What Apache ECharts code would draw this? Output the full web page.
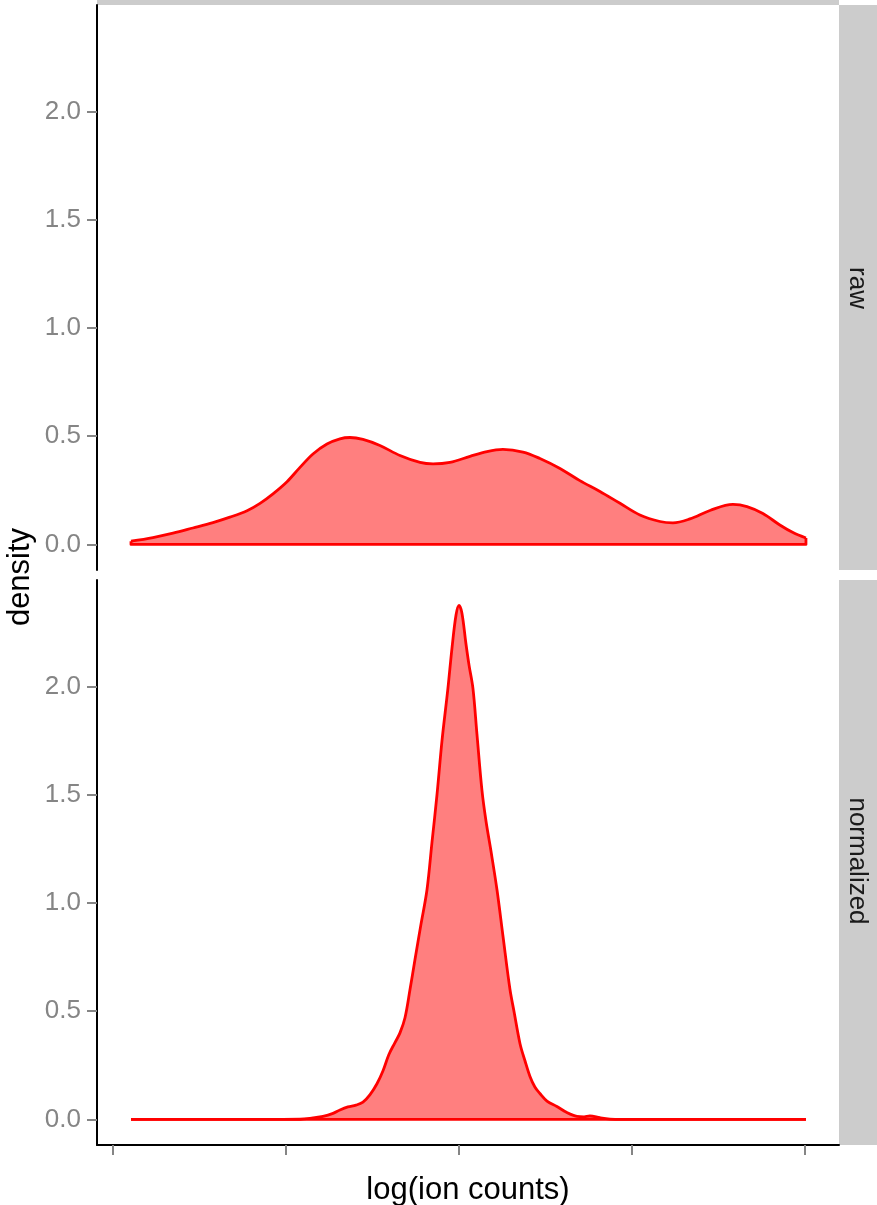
<!DOCTYPE html>
<html>
<head>
<meta charset="utf-8">
<script src="https://cdn.jsdelivr.net/npm/echarts@6/dist/echarts.min.js"></script>
<style>
html, body { margin: 0; padding: 0; background: #fff; }
#chart { width: 877px; height: 1205px; }
</style>
</head>
<body>
<div id="chart"></div>
<script>
// density curves, x in axis units (ticks at 0..4, labels hidden in the original)
var rawX = [0.104, 0.231, 0.347, 0.462, 0.578, 0.676, 0.775, 0.850, 0.925, 1.006,
    1.081, 1.156, 1.237, 1.312, 1.370, 1.445, 1.543, 1.659, 1.775, 1.850,
    1.948, 2.064, 2.162, 2.254, 2.370, 2.468, 2.584, 2.699, 2.815, 2.931,
    3.046, 3.162, 3.237, 3.335, 3.451, 3.584, 3.665, 3.757, 3.855, 3.931, 4.006];
var rawY = [0.015, 0.032, 0.052, 0.076, 0.101, 0.126, 0.156, 0.190, 0.234, 0.290,
    0.356, 0.418, 0.464, 0.488, 0.494, 0.485, 0.457, 0.411, 0.379, 0.372,
    0.379, 0.407, 0.429, 0.439, 0.427, 0.397, 0.351, 0.295, 0.245, 0.190,
    0.136, 0.106, 0.100, 0.118, 0.157, 0.185, 0.175, 0.143, 0.090, 0.055, 0.030];

var normX = [0.104, 0.503, 0.850, 1.081, 1.139, 1.214, 1.272, 1.312, 1.358, 1.405,
    1.445, 1.486, 1.526, 1.561, 1.595, 1.630, 1.659, 1.688, 1.717, 1.746,
    1.780, 1.815, 1.844, 1.873, 1.902, 1.936, 1.960, 1.983, 2.000, 2.017,
    2.040, 2.058, 2.081, 2.104, 2.133, 2.156, 2.185, 2.220, 2.254, 2.295,
    2.318, 2.353, 2.382, 2.410, 2.439, 2.468, 2.509, 2.566, 2.624, 2.682,
    2.723, 2.757, 2.815, 2.873, 2.931, 3.393, 4.006];
var normY = [0, 0, 0, 0.001, 0.005, 0.014, 0.028, 0.044, 0.058, 0.066,
    0.080, 0.115, 0.165, 0.225, 0.300, 0.355, 0.400, 0.470, 0.600, 0.740,
    0.900, 1.060, 1.280, 1.500, 1.750, 1.990, 2.180, 2.330, 2.375, 2.340,
    2.200, 2.100, 1.990, 1.780, 1.520, 1.380, 1.240, 1.060, 0.850, 0.600,
    0.500, 0.350, 0.270, 0.200, 0.150, 0.120, 0.085, 0.060, 0.032, 0.014,
    0.012, 0.016, 0.008, 0.002, 0, 0, 0];

var xTicks = [0, 1, 2, 3, 4];
var yTicks = [0, 0.5, 1, 1.5, 2];
var panelNames = ['raw', 'normalized'];

var xMin = -0.0925, xMax = 4.197;
var yMin = -0.118, yMax = 2.492;

var lineRed = '#ff0000';
var fillRed = 'rgba(255,0,0,0.5)';
var axisGrey = '#858585';
var font = 'Liberation Sans';

function pairs(xs, ys) {
    return xs.map(function (x, i) { return [x, ys[i]]; });
}

// closing edges of the density polygon (sides and baseline)
function outline(xs, ys) {
    var n = xs.length - 1;
    return [[xs[0], ys[0]], [xs[0], 0], [xs[n], 0], [xs[n], ys[n]]];
}

function densitySeries(xs, ys, idx) {
    return [{
        type: 'line',
        xAxisIndex: idx,
        yAxisIndex: idx,
        data: pairs(xs, ys),
        smooth: 0.35,
        symbol: 'none',
        lineStyle: { color: lineRed, width: 2.8 },
        areaStyle: { color: fillRed, opacity: 1 },
        z: 2
    }, {
        type: 'line',
        xAxisIndex: idx,
        yAxisIndex: idx,
        data: outline(xs, ys),
        symbol: 'none',
        lineStyle: { color: lineRed, width: 2.8, join: 'round' },
        z: 3
    }];
}

function yAxisFor(idx) {
    return {
        type: 'value',
        gridIndex: idx,
        min: yMin,
        max: yMax,
        axisLine: { show: true, onZero: false, lineStyle: { color: '#000', width: 2 } },
        axisTick: { show: true, length: 10, customValues: yTicks, lineStyle: { color: axisGrey, width: 2 } },
        axisLabel: {
            show: true,
            customValues: yTicks,
            margin: 16,
            color: axisGrey,
            fontSize: 26,
            fontFamily: font,
            formatter: function (v) { return v.toFixed(1); }
        },
        splitLine: { show: false }
    };
}

var chart = echarts.init(document.getElementById('chart'));

var option = {
    animation: false,
    backgroundColor: '#fff',
    grid: [
        { left: 97, top: 5, width: 742, height: 565, outerBoundsMode: 'none' },
        { left: 97, top: 580, width: 742, height: 565, outerBoundsMode: 'none' }
    ],
    xAxis: [{
        type: 'value',
        gridIndex: 0,
        min: xMin,
        max: xMax,
        axisLine: { show: false },
        axisTick: { show: false },
        axisLabel: { show: false },
        splitLine: { show: false }
    }, {
        type: 'value',
        gridIndex: 1,
        min: xMin,
        max: xMax,
        name: 'log(ion counts)',
        nameLocation: 'middle',
        nameGap: 30,
        nameTextStyle: { color: '#000', fontSize: 31, fontFamily: font, verticalAlign: 'top' },
        axisLine: { show: true, onZero: false, lineStyle: { color: '#000', width: 2 } },
        axisTick: { show: true, length: 10, customValues: xTicks, lineStyle: { color: axisGrey, width: 2 } },
        axisLabel: { show: false },
        splitLine: { show: false }
    }],
    yAxis: [yAxisFor(0), yAxisFor(1)],
    series: densitySeries(rawX, rawY, 0).concat(densitySeries(normX, normY, 1)),
    graphic: [
        { type: 'rect', shape: { x: 97, y: 0, width: 742, height: 5 }, style: { fill: '#cccccc' } },
        { type: 'rect', shape: { x: 839, y: 5, width: 38, height: 565 }, style: { fill: '#cccccc' } },
        { type: 'rect', shape: { x: 839, y: 580, width: 38, height: 565 }, style: { fill: '#cccccc' } },
        {
            type: 'text', x: 857, y: 288, rotation: -Math.PI / 2,
            style: { text: panelNames[0], fill: '#1a1a1a', fontSize: 26, fontFamily: font, align: 'center', verticalAlign: 'middle' }
        },
        {
            type: 'text', x: 857, y: 861, rotation: -Math.PI / 2,
            style: { text: panelNames[1], fill: '#1a1a1a', fontSize: 26, fontFamily: font, align: 'center', verticalAlign: 'middle' }
        },
        {
            type: 'text', x: 20, y: 577, rotation: Math.PI / 2,
            style: { text: 'density', fill: '#000', fontSize: 31, fontFamily: font, align: 'center', verticalAlign: 'middle' }
        }
    ]
};

chart.setOption(option);
</script>
</body>
</html>
